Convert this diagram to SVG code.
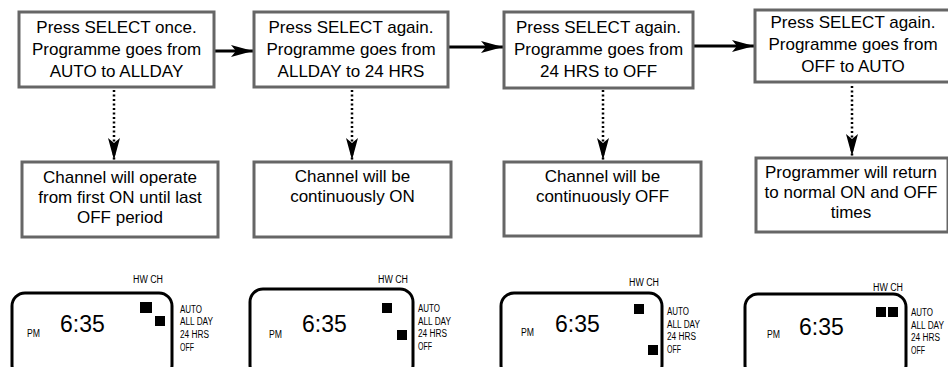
<svg xmlns="http://www.w3.org/2000/svg" width="948" height="367" viewBox="0 0 948 367">
<defs>
<style>
.box{fill:#fff;stroke:#666;stroke-width:3}
.t{font-family:"Liberation Sans",Arial,sans-serif;font-size:17px;fill:#000;text-anchor:middle}
.lcd{fill:none;stroke:#000;stroke-width:3}
.big{font-family:"Liberation Sans",Arial,sans-serif;font-size:23px;fill:#000}
.sm{font-family:"Liberation Sans",Arial,sans-serif;font-size:10px;fill:#000}
.seg{fill:#000}
.solid{fill:none;stroke:#000;stroke-width:3}
.dot{fill:none;stroke:#000;stroke-width:2.5;stroke-dasharray:2 2.5}
</style>
<marker id="ah" markerUnits="userSpaceOnUse" markerWidth="24" markerHeight="14" refX="22" refY="7" orient="auto" viewBox="0 0 24 14">
<path d="M0,1 L22,7 L0,13 L5,7 Z" fill="#000"/>
</marker>
</defs>
<rect width="948" height="367" fill="#fff"/>

<g id="connectors">
<path class="solid" d="M215,51 H253" marker-end="url(#ah)"/>
<path class="solid" d="M449,47 H503" marker-end="url(#ah)"/>
<path class="solid" d="M694,46 H754" marker-end="url(#ah)"/>
<path class="dot" d="M114,90 V160" marker-end="url(#ah)"/>
<path class="dot" d="M352,90 V160" marker-end="url(#ah)"/>
<path class="dot" d="M603,90 V160" marker-end="url(#ah)"/>
<path class="dot" d="M852,86 V156" marker-end="url(#ah)"/>
</g>

<g id="step1">
<rect class="box" x="19" y="12" width="195" height="75"/>
<text class="t" x="116.5" y="33">Press SELECT once.</text>
<text class="t" x="116.5" y="55">Programme goes from</text>
<text class="t" x="116.5" y="77">AUTO to ALLDAY</text>
</g>
<g id="step2">
<rect class="box" x="254" y="12" width="194" height="75"/>
<text class="t" x="351" y="33">Press SELECT again.</text>
<text class="t" x="351" y="55">Programme goes from</text>
<text class="t" x="351" y="77">ALLDAY to 24 HRS</text>
</g>
<g id="step3">
<rect class="box" x="504" y="12" width="189" height="76"/>
<text class="t" x="598.5" y="33">Press SELECT again.</text>
<text class="t" x="598.5" y="55">Programme goes from</text>
<text class="t" x="598.5" y="77">24 HRS to OFF</text>
</g>
<g id="step4">
<rect class="box" x="755" y="10" width="196" height="72"/>
<text class="t" x="853" y="28">Press SELECT again.</text>
<text class="t" x="853" y="50">Programme goes from</text>
<text class="t" x="853" y="72">OFF to AUTO</text>
</g>

<g id="result1">
<rect class="box" x="22" y="162" width="196" height="75"/>
<text class="t" x="120" y="183">Channel will operate</text>
<text class="t" x="120" y="203">from first ON until last</text>
<text class="t" x="120" y="223">OFF period</text>
</g>
<g id="result2">
<rect class="box" x="254" y="162" width="197" height="75"/>
<text class="t" x="352.5" y="182">Channel will be</text>
<text class="t" x="352.5" y="202">continuously ON</text>
</g>
<g id="result3">
<rect class="box" x="504" y="162" width="197" height="74"/>
<text class="t" x="602.5" y="182">Channel will be</text>
<text class="t" x="602.5" y="202">continuously OFF</text>
</g>
<g id="result4">
<rect class="box" x="756" y="158" width="192" height="74"/>
<text class="t" x="851" y="178">Programmer will return</text>
<text class="t" x="851" y="198">to normal ON and OFF</text>
<text class="t" x="851" y="218">times</text>
</g>

<g id="lcd1">
<rect class="lcd" x="12" y="293" width="160" height="85" rx="13"/>
<text class="sm" x="133" y="283" textLength="30" lengthAdjust="spacingAndGlyphs">HW CH</text>
<rect class="seg" x="140" y="302" width="12" height="11"/>
<rect class="seg" x="155" y="316" width="10" height="10"/>
<text class="big" x="60" y="332">6:35</text>
<text class="sm" x="27" y="337" textLength="13" lengthAdjust="spacingAndGlyphs">PM</text>
<text class="sm" x="180" y="313" textLength="22" lengthAdjust="spacingAndGlyphs">AUTO</text>
<text class="sm" x="180" y="325" textLength="33" lengthAdjust="spacingAndGlyphs">ALL DAY</text>
<text class="sm" x="180" y="338" textLength="29" lengthAdjust="spacingAndGlyphs">24 HRS</text>
<text class="sm" x="180" y="351" textLength="14" lengthAdjust="spacingAndGlyphs">OFF</text>
</g>
<g id="lcd2">
<rect class="lcd" x="250" y="289" width="163" height="89" rx="13"/>
<text class="sm" x="378" y="283" textLength="30" lengthAdjust="spacingAndGlyphs">HW CH</text>
<rect class="seg" x="382" y="303" width="10" height="10"/>
<rect class="seg" x="397" y="330" width="10" height="10"/>
<text class="big" x="302" y="332">6:35</text>
<text class="sm" x="269" y="338" textLength="13" lengthAdjust="spacingAndGlyphs">PM</text>
<text class="sm" x="418" y="312" textLength="22" lengthAdjust="spacingAndGlyphs">AUTO</text>
<text class="sm" x="418" y="324.5" textLength="33" lengthAdjust="spacingAndGlyphs">ALL DAY</text>
<text class="sm" x="418" y="337" textLength="29" lengthAdjust="spacingAndGlyphs">24 HRS</text>
<text class="sm" x="418" y="349.5" textLength="14" lengthAdjust="spacingAndGlyphs">OFF</text>
</g>
<g id="lcd3">
<rect class="lcd" x="501" y="293" width="161" height="85" rx="13"/>
<text class="sm" x="629" y="286" textLength="30" lengthAdjust="spacingAndGlyphs">HW CH</text>
<rect class="seg" x="634" y="304" width="10" height="10"/>
<rect class="seg" x="648" y="345" width="10" height="10"/>
<text class="big" x="555" y="332">6:35</text>
<text class="sm" x="521" y="336" textLength="13" lengthAdjust="spacingAndGlyphs">PM</text>
<text class="sm" x="667" y="315" textLength="22" lengthAdjust="spacingAndGlyphs">AUTO</text>
<text class="sm" x="667" y="327.5" textLength="33" lengthAdjust="spacingAndGlyphs">ALL DAY</text>
<text class="sm" x="667" y="340" textLength="29" lengthAdjust="spacingAndGlyphs">24 HRS</text>
<text class="sm" x="667" y="352.5" textLength="14" lengthAdjust="spacingAndGlyphs">OFF</text>
</g>
<g id="lcd4">
<rect class="lcd" x="745" y="294" width="161" height="84" rx="13"/>
<text class="sm" x="873" y="291" textLength="30" lengthAdjust="spacingAndGlyphs">HW CH</text>
<rect class="seg" x="876" y="307" width="10" height="10"/>
<rect class="seg" x="888" y="307" width="10" height="10"/>
<text class="big" x="799" y="335">6:35</text>
<text class="sm" x="767" y="338" textLength="13" lengthAdjust="spacingAndGlyphs">PM</text>
<text class="sm" x="911" y="316" textLength="22" lengthAdjust="spacingAndGlyphs">AUTO</text>
<text class="sm" x="911" y="328.5" textLength="33" lengthAdjust="spacingAndGlyphs">ALL DAY</text>
<text class="sm" x="911" y="341" textLength="29" lengthAdjust="spacingAndGlyphs">24 HRS</text>
<text class="sm" x="911" y="353.5" textLength="14" lengthAdjust="spacingAndGlyphs">OFF</text>
</g>
</svg>
